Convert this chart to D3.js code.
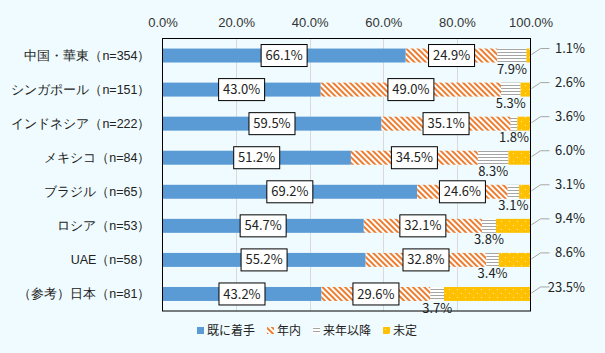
<!DOCTYPE html>
<html>
<head>
<meta charset="utf-8">
<script src="https://cdn.jsdelivr.net/npm/d3@7"></script>
<style>
body { margin: 0; background: #effbfe; }
svg { display: block; font-family: "Noto Sans CJK JP", "Noto Sans", sans-serif; }
</style>
</head>
<body>
<svg id="chart" width="605" height="353"></svg>
<script>
// data (percent)
var categories = ['中国・華東（n=354）', 'シンガポール（n=151）', 'インドネシア（n=222）', 'メキシコ（n=84）',
                  'ブラジル（n=65）', 'ロシア（n=53）', 'UAE（n=58）', '（参考）日本（n=81）'];
var started    = [66.1, 43.0, 59.5, 51.2, 69.2, 54.7, 55.2, 43.2];
var withinYear = [24.9, 49.0, 35.1, 34.5, 24.6, 32.1, 32.8, 29.6];
var nextYear   = [7.9, 5.3, 1.8, 8.3, 3.1, 3.8, 3.4, 3.7];
var undecided  = [1.1, 2.6, 3.6, 6.0, 3.1, 9.4, 8.6, 23.5];
var seriesNames = ['既に着手', '年内', '来年以降', '未定'];
var xTicks = [0, 20, 40, 60, 80, 100];

var keys = ['started', 'withinYear', 'nextYear', 'undecided'];
var table = categories.map(function(c, i) {
    return {cat: c, started: started[i], withinYear: withinYear[i], nextYear: nextYear[i], undecided: undecided[i]};
});

var margin = {top: 38.5, left: 162.5, right: 74.5, bottom: 42};
var width = 605, height = 353;

var svg = d3.select('#chart');

// patterns
var defs = svg.append('defs');
var pOrange = defs.append('pattern').attr('id', 'pOrange').attr('patternUnits', 'userSpaceOnUse')
    .attr('width', 4).attr('height', 4).attr('patternTransform', 'rotate(-45)');
pOrange.append('rect').attr('width', 4).attr('height', 4).attr('fill', '#fff');
pOrange.append('rect').attr('width', 2).attr('height', 4).attr('fill', '#ed7d31');

var pGray = defs.append('pattern').attr('id', 'pGray').attr('patternUnits', 'userSpaceOnUse')
    .attr('width', 4).attr('height', 3);
pGray.append('rect').attr('width', 4).attr('height', 3).attr('fill', '#fff');
pGray.append('rect').attr('y', 1).attr('width', 4).attr('height', 1).attr('fill', '#a5a5a5');

var pYellow = defs.append('pattern').attr('id', 'pYellow').attr('patternUnits', 'userSpaceOnUse')
    .attr('width', 8).attr('height', 8);
pYellow.append('rect').attr('width', 8).attr('height', 8).attr('fill', '#ffc000');
pYellow.append('rect').attr('x', 1).attr('y', 1).attr('width', 1).attr('height', 1).attr('fill', '#ffe9a8');
pYellow.append('rect').attr('x', 5).attr('y', 5).attr('width', 1).attr('height', 1).attr('fill', '#ffe9a8');

var fills = ['#5b9bd5', 'url(#pOrange)', 'url(#pGray)', 'url(#pYellow)'];

var x = d3.scaleLinear().domain([0, 100]).range([margin.left, width - margin.right]);
var y = d3.scaleBand().domain(categories).range([margin.top, height - margin.bottom]).paddingInner(0.59).paddingOuter(0.295);

// grid
svg.append('g').selectAll('line').data(xTicks.slice(1, -1)).join('line')
    .attr('x1', function(d) { return Math.round(x(d)) + 0.5; })
    .attr('x2', function(d) { return Math.round(x(d)) + 0.5; })
    .attr('y1', margin.top).attr('y2', height - margin.bottom)
    .attr('stroke', '#d9d9d9');

// top tick labels
var xAxis = d3.axisTop(x).tickValues(xTicks).tickSize(0).tickPadding(0)
    .tickFormat(function(d) { return d.toFixed(1) + '%'; });
svg.append('g').attr('transform', 'translate(0,27)').call(xAxis)
    .call(function(g) { g.select('.domain').remove(); })
    .selectAll('text').attr('font-size', 13).attr('fill', '#333').attr('font-family', null);

// bars
var stacked = d3.stack().keys(keys)(table);
svg.append('g').selectAll('g').data(stacked).join('g')
    .attr('fill', function(d, i) { return fills[i]; })
    .selectAll('rect').data(function(d) { return d; }).join('rect')
    .attr('x', function(d) { return x(d[0]); })
    .attr('width', function(d) { return x(d[1]) - x(d[0]); })
    .attr('y', function(d) { return y(d.data.cat); })
    .attr('height', y.bandwidth());

// plot frame
svg.append('rect').attr('x', margin.left).attr('y', margin.top)
    .attr('width', x(100) - x(0)).attr('height', height - margin.bottom - margin.top)
    .attr('fill', 'none').attr('stroke', '#000');

// category labels
var yAxis = d3.axisLeft(y).tickSize(0).tickPadding(12);
svg.append('g').attr('transform', 'translate(' + margin.left + ',0)').call(yAxis)
    .call(function(g) { g.select('.domain').remove(); })
    .selectAll('text').attr('font-size', 12.5).attr('fill', '#222').attr('font-family', null);

var fmt = function(v) { return v.toFixed(1) + '%'; };
var labels = svg.append('g').attr('font-size', 13).attr('fill', '#222');

// boxed labels for the first two series
[0, 1].forEach(function(si) {
    stacked[si].forEach(function(d) {
        var cx = x((d[0] + d[1]) / 2), cy = y(d.data.cat) + y.bandwidth() / 2;
        var g = labels.append('g');
        g.append('rect').attr('x', cx - 23).attr('y', cy - 11).attr('width', 46).attr('height', 22)
            .attr('fill', '#fff').attr('stroke', '#000');
        g.append('text').attr('x', cx).attr('y', cy).attr('dy', '0.35em').attr('text-anchor', 'middle')
            .text(fmt(d[1] - d[0]));
    });
});

// next-year labels below the bar
stacked[2].forEach(function(d) {
    var cx = x((d[0] + d[1]) / 2), cy = y(d.data.cat) + y.bandwidth() / 2 + 14;
    labels.append('text').attr('x', cx).attr('y', cy).attr('dy', '0.35em').attr('text-anchor', 'middle')
        .text(fmt(d[1] - d[0]));
});

// undecided labels with leader lines
stacked[3].forEach(function(d) {
    var bc = y(d.data.cat) + y.bandwidth() / 2, ly = bc - 7;
    svg.append('polyline')
        .attr('points', [[x(100) + 1, bc - 1], [x(100) + 10, ly], [x(100) + 19, ly]].join(' '))
        .attr('fill', 'none').attr('stroke', '#a6a6a6');
    labels.append('text').attr('x', 585).attr('y', ly).attr('dy', '0.35em').attr('text-anchor', 'end')
        .text(fmt(d[1] - d[0]));
});

// legend
var legend = svg.append('g').attr('font-size', 12).attr('fill', '#222');
var lx = 197, ly = 331;
seriesNames.forEach(function(name, i) {
    legend.append('rect').attr('x', lx).attr('y', ly - 4).attr('width', 7).attr('height', 7).attr('fill', fills[i]);
    var t = legend.append('text').attr('x', lx + 10).attr('y', ly).attr('dy', '0.35em').text(name);
    lx += 10 + t.node().getComputedTextLength() + 12;
});
</script>
</body>
</html>
